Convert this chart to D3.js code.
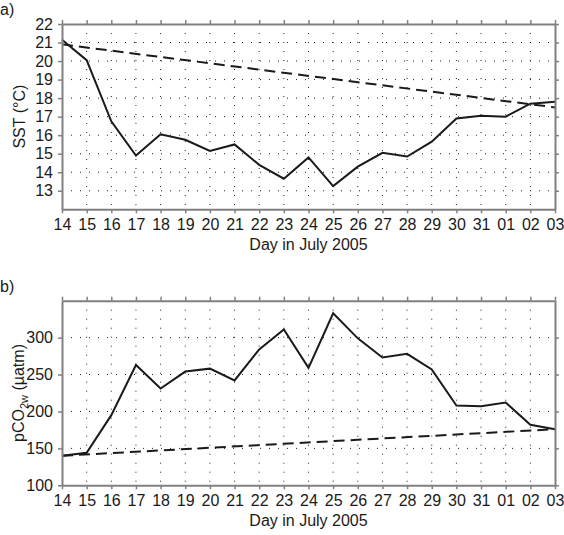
<!DOCTYPE html>
<html>
<head>
<meta charset="utf-8">
<script src="https://cdn.jsdelivr.net/npm/d3@7"></script>
<style>
body { margin: 0; background: #fff; }
text { font-family: "Liberation Sans", Arial, Helvetica, sans-serif; fill: #1a1a1a; }
</style>
</head>
<body>
<div id="chart"></div>
<script>
// day labels, 14 July to 03 August 2005
var days = ["14","15","16","17","18","19","20","21","22","23","24","25","26","27","28","29","30","31","01","02","03"];

// SST (deg C), solid line
var sst = [21.15, 20.05, 16.75, 14.9, 16.05, 15.75, 15.15, 15.5, 14.4, 13.65, 14.8, 13.25, 14.3, 15.05, 14.85, 15.65, 16.9, 17.05, 17.0, 17.7, 17.8];
// SST trend (dashed), first and last day
var sstTrend = [20.9, 17.5];
var sstTicks = [13, 14, 15, 16, 17, 18, 19, 20, 21, 22];

// pCO2w (uatm), solid line
var pco2 = [140, 144, 195, 263, 231, 254, 258, 242, 284, 311, 259, 333, 299, 273, 278, 257, 208, 207, 212, 182, 176];
// pCO2w trend (dashed), first and last day
var pco2Trend = [140, 176];
var pco2Ticks = [100, 150, 200, 250, 300];

var svgWidth = 564;
var svgHeight = 535;

var left = 62, right = 555;
var frameColor = "#808080";

var svg = d3.select("#chart")
    .append("svg")
    .attr("width", svgWidth)
    .attr("height", svgHeight);

var x = d3.scaleLinear()
    .domain([0, days.length - 1])
    .range([left, right]);

function drawPanel(opts) {
    var y = d3.scaleLinear()
        .domain(opts.domain)
        .range([opts.bottom, opts.top]);

    var g = svg.append("g");

    // dotted grid
    g.append("g")
        .selectAll("line.vgrid")
        .data(d3.range(1, days.length - 1))
        .enter()
        .append("line")
        .attr("x1", d => x(d)).attr("x2", d => x(d))
        .attr("y1", opts.top).attr("y2", opts.bottom)
        .attr("stroke", "#222")
        .attr("stroke-width", 1)
        .attr("stroke-dasharray", "1,8");

    g.append("g")
        .selectAll("line.hgrid")
        .data(opts.ticks.filter(t => t > opts.domain[0] && t < opts.domain[1]))
        .enter()
        .append("line")
        .attr("x1", left).attr("x2", right)
        .attr("y1", d => y(d)).attr("y2", d => y(d))
        .attr("stroke", "#222")
        .attr("stroke-width", 1)
        .attr("stroke-dasharray", "1,8");

    // trend line (dashed)
    var ends = [0, days.length - 1];
    g.append("path")
        .datum(opts.trend)
        .attr("fill", "none")
        .attr("stroke", "#1a1a1a")
        .attr("stroke-width", 2)
        .attr("stroke-dasharray", "11,6")
        .attr("d", d3.line().x((d, i) => x(ends[i])).y(d => y(d)));

    // data line
    g.append("path")
        .datum(opts.values)
        .attr("fill", "none")
        .attr("stroke", "#1a1a1a")
        .attr("stroke-width", 2)
        .attr("stroke-linejoin", "miter")
        .attr("d", d3.line().x((d, i) => x(i)).y(d => y(d)));

    // axes, ticks outward on all four sides
    var tickIdx = d3.range(days.length);
    var bottomAxis = d3.axisBottom(x).tickValues(tickIdx).tickFormat(i => days[i]).tickSize(4).tickSizeOuter(0).tickPadding(5);
    var topAxis = d3.axisTop(x).tickValues(tickIdx).tickFormat("").tickSize(4).tickSizeOuter(0);
    var leftAxis = d3.axisLeft(y).tickValues(opts.ticks).tickSize(4).tickSizeOuter(0).tickPadding(5);
    var rightAxis = d3.axisRight(y).tickValues(opts.ticks).tickFormat("").tickSize(4).tickSizeOuter(0);

    var xb = g.append("g").attr("transform", `translate(0, ${opts.bottom})`).call(bottomAxis);
    var xt = g.append("g").attr("transform", `translate(0, ${opts.top})`).call(topAxis);
    var yl = g.append("g").attr("transform", `translate(${left}, 0)`).call(leftAxis);
    var yr = g.append("g").attr("transform", `translate(${right}, 0)`).call(rightAxis);

    [xb, xt, yl, yr].forEach(function(a) {
        a.select(".domain").attr("stroke", frameColor).attr("stroke-width", 2);
        a.selectAll(".tick line").attr("stroke", frameColor).attr("stroke-width", 1.5);
        a.selectAll(".tick text")
            .attr("font-size", 16)
            .attr("fill", "#1a1a1a")
            .style("font-family", "'Liberation Sans', Arial, sans-serif");
    });

    // x title
    g.append("text")
        .attr("x", (left + right) / 2)
        .attr("y", opts.bottom + 41)
        .attr("text-anchor", "middle")
        .attr("font-size", 16)
        .text("Day in July 2005");

    // panel letter
    g.append("text")
        .attr("x", 0)
        .attr("y", opts.top - 9)
        .attr("font-size", 16)
        .text(opts.letter);

    return g;
}

var a = drawPanel({
    top: 24, bottom: 209.3,
    domain: [12, 22],
    ticks: sstTicks,
    values: sst,
    trend: sstTrend,
    letter: "a)"
});

a.append("text")
    .attr("transform", `translate(25, ${(24 + 209.3) / 2}) rotate(-90)`)
    .attr("text-anchor", "middle")
    .attr("font-size", 16)
    .text("SST (°C)");

var b = drawPanel({
    top: 300.7, bottom: 485.3,
    domain: [100, 350],
    ticks: pco2Ticks,
    values: pco2,
    trend: pco2Trend,
    letter: "b)"
});

var yt = b.append("text")
    .attr("transform", `translate(24, ${(300.7 + 485.3) / 2}) rotate(-90)`)
    .attr("text-anchor", "middle")
    .attr("font-size", 16);
yt.append("tspan").text("pCO");
yt.append("tspan").attr("font-size", 11).attr("dy", 4).text("2w");
yt.append("tspan").attr("dy", -4).text(" (µatm)");
</script>
</body>
</html>
